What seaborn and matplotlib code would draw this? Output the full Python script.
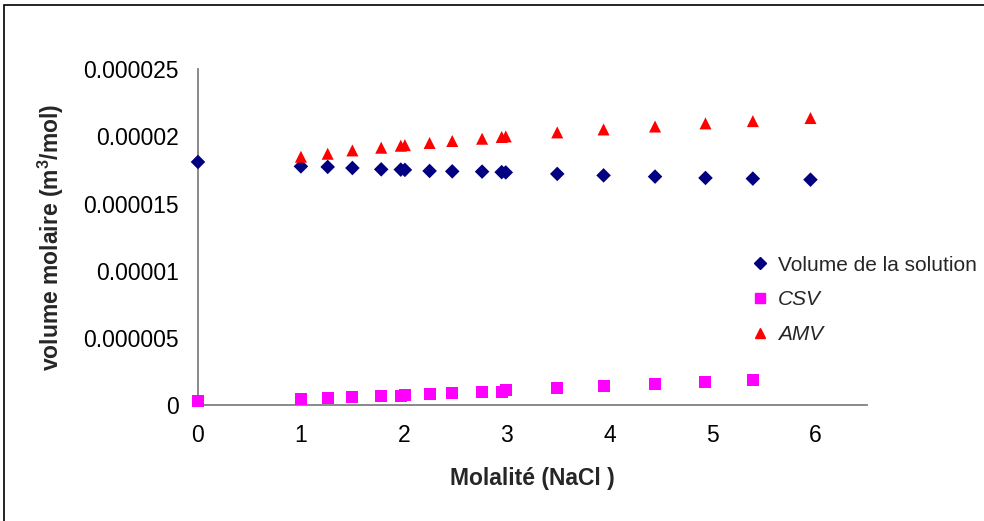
import numpy as np
import pandas as pd
import seaborn as sns
import matplotlib.pyplot as plt
from matplotlib.ticker import FuncFormatter
from matplotlib.lines import Line2D

# molalité (NaCl) et volumes molaires
molalite = [0, 1.0, 1.26, 1.5, 1.78, 1.97, 2.01, 2.25, 2.47, 2.76, 2.95, 2.99,
            3.49, 3.94, 4.44, 4.93, 5.39, 5.95]
vol_solution = [1.810e-5, 1.777e-5, 1.773e-5, 1.765e-5, 1.755e-5, 1.753e-5, 1.751e-5,
                1.743e-5, 1.740e-5, 1.738e-5, 1.734e-5, 1.732e-5,
                1.721e-5, 1.710e-5, 1.701e-5, 1.691e-5, 1.686e-5, 1.678e-5]

molalite_csv = [0, 1.0, 1.26, 1.5, 1.78, 1.97, 2.01, 2.25, 2.47, 2.76, 2.95, 2.99,
                3.49, 3.94, 4.44, 4.93, 5.39]
csv = [3.3e-7, 4.2e-7, 5.0e-7, 5.7e-7, 6.5e-7, 7.0e-7, 7.6e-7, 8.4e-7, 9.0e-7,
       9.5e-7, 9.8e-7, 1.15e-6, 1.30e-6, 1.43e-6, 1.58e-6, 1.73e-6, 1.88e-6]

molalite_amv = [1.0, 1.26, 1.5, 1.78, 1.97, 2.01, 2.25, 2.47, 2.76, 2.95, 2.99,
                3.49, 3.94, 4.44, 4.93, 5.39, 5.95]
amv = [1.849e-5, 1.871e-5, 1.896e-5, 1.916e-5, 1.931e-5, 1.935e-5, 1.951e-5,
       1.966e-5, 1.983e-5, 1.996e-5, 2.0e-5, 2.03e-5, 2.052e-5, 2.074e-5,
       2.097e-5, 2.114e-5, 2.137e-5]

sns.set_style('white')
plt.rcParams['font.family'] = ['Liberation Sans', 'DejaVu Sans']
plt.rcParams['mathtext.fontset'] = 'custom'
plt.rcParams['mathtext.rm'] = 'Liberation Sans'
plt.rcParams['mathtext.bf'] = 'Liberation Sans:bold'

fig = plt.figure(figsize=(9.84, 5.21), dpi=100)
ax = fig.add_axes([0.2012, 0.2226, 0.6800, 0.6444])

sns.scatterplot(x=molalite, y=vol_solution, ax=ax, marker='D', color='#000080',
                s=55, edgecolor='none', clip_on=False, zorder=5)
sns.scatterplot(x=molalite_csv, y=csv, ax=ax, marker='s', color='#FF00FF',
                s=75, edgecolor='none', clip_on=False, zorder=5)
sns.scatterplot(x=molalite_amv, y=amv, ax=ax, marker='^', color='#FF0000',
                s=75, edgecolor='none', clip_on=False, zorder=5)

ax.set_xlim(0, 6.5)
ax.set_ylim(0, 0.000025)
ax.set_xticks([0, 1, 2, 3, 4, 5, 6])
ax.set_yticks([0, 0.000005, 0.00001, 0.000015, 0.00002, 0.000025])
ax.yaxis.set_major_formatter(FuncFormatter(
    lambda v, p: '0' if v == 0 else ('%.6f' % v).rstrip('0')))

for s in ['top', 'right']:
    ax.spines[s].set_visible(False)
for s in ['left', 'bottom']:
    ax.spines[s].set_color('#808080')
    ax.spines[s].set_linewidth(1.3)
ax.tick_params(axis='both', direction='out', length=6, width=1.3, color='#505050',
               labelsize=16.5, labelcolor='black', pad=8)
ax.tick_params(axis='y', pad=8)

ax.set_xlabel('Molalité (NaCl )', fontsize=16.5, fontweight='bold', labelpad=14)
ax.set_ylabel(r'volume molaire (m$^{\mathbf{3}}$/mol)', fontsize=16.5,
              fontweight='bold', labelpad=12)

handles = [
    Line2D([], [], linestyle='none', marker='D', color='#000080', markersize=6),
    Line2D([], [], linestyle='none', marker='s', color='#FF00FF', markersize=7),
    Line2D([], [], linestyle='none', marker='^', color='#FF0000', markersize=7),
]
leg = ax.legend(handles, ['Volume de la solution', 'CSV', 'AMV'], frameon=False,
                fontsize=15, loc='upper left', bbox_to_anchor=(0.815, 0.47),
                handlelength=0.8, handletextpad=0.45, labelspacing=0.75,
                borderaxespad=0)
leg.get_texts()[1].set_style('italic')
leg.get_texts()[2].set_style('italic')

# cadre du graphique (bords gauche et haut visibles)
fig.add_artist(plt.Rectangle((4 / 984, -0.1), 1.2, 1 - 5 / 521 + 0.1,
                             transform=fig.transFigure, fill=False,
                             edgecolor='black', linewidth=1.2))

fig.savefig('out.png', dpi=100)
